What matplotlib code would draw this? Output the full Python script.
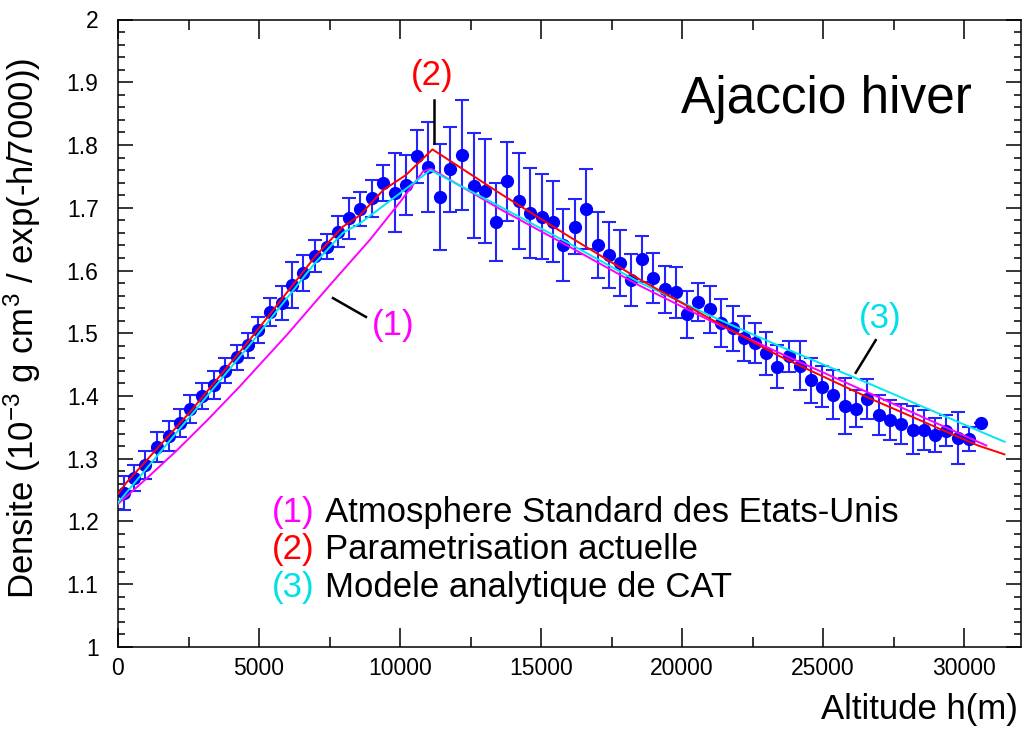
import matplotlib.pyplot as plt
from matplotlib.ticker import MultipleLocator, FuncFormatter

plt.rcParams['font.family'] = ['Liberation Sans', 'DejaVu Sans']
plt.rcParams['mathtext.default'] = 'regular'

# measured density points (altitude in m)
alt = [205, 559, 973, 1387, 1797, 2186, 2565, 2978, 3389, 3803,
       4216, 4627, 4981, 5394, 5808, 6162, 6572, 6986, 7400, 7810,
       8200, 8578, 8992, 9402, 9816, 10205, 10584, 10994, 11408, 11786,
       12211, 12611, 13011, 13389, 13803, 14203, 14616, 15026, 15417, 15794,
       16219, 16597, 17008, 17400, 17799, 18189, 18572, 18960, 19402, 19780,
       20191, 20580, 20983, 21372, 21808, 22197, 22586, 22964, 23375, 23789,
       24178, 24578, 24966, 25355, 25769, 26169, 26558, 26972, 27385, 27775,
       28175, 28564, 28953, 29367, 29777, 30180, 30591]
dens = [1.245, 1.269, 1.290, 1.319, 1.336, 1.357, 1.379, 1.400, 1.418, 1.440,
        1.462, 1.481, 1.505, 1.534, 1.548, 1.577, 1.596, 1.623, 1.638, 1.662,
        1.683, 1.698, 1.715, 1.739, 1.724, 1.736, 1.782, 1.765, 1.717, 1.761,
        1.784, 1.735, 1.727, 1.677, 1.742, 1.711, 1.692, 1.686, 1.678, 1.641,
        1.670, 1.698, 1.641, 1.625, 1.612, 1.585, 1.618, 1.588, 1.570, 1.565,
        1.530, 1.550, 1.538, 1.516, 1.508, 1.492, 1.484, 1.468, 1.447, 1.463,
        1.448, 1.425, 1.415, 1.402, 1.384, 1.380, 1.395, 1.370, 1.362, 1.356,
        1.346, 1.346, 1.338, 1.345, 1.333, 1.331, 1.357]
err = [0.027, 0.021, 0.023, 0.024, 0.024, 0.023, 0.022, 0.020, 0.022, 0.020,
       0.020, 0.020, 0.021, 0.022, 0.027, 0.036, 0.029, 0.025, 0.020, 0.025,
       0.033, 0.027, 0.030, 0.029, 0.063, 0.048, 0.042, 0.072, 0.085, 0.068,
       0.087, 0.084, 0.083, 0.062, 0.063, 0.076, 0.072, 0.068, 0.064, 0.057,
       0.044, 0.064, 0.053, 0.053, 0.052, 0.042, 0.037, 0.040, 0.037, 0.040,
       0.037, 0.030, 0.037, 0.038, 0.036, 0.036, 0.032, 0.034, 0.034, 0.024,
       0.039, 0.036, 0.033, 0.039, 0.045, 0.030, 0.032, 0.032, 0.032, 0.032,
       0.038, 0.032, 0.027, 0.024, 0.041, 0.019, 0.0]

# (1) US standard atmosphere
h_us = [0, 1000, 2080, 3200, 4333, 6000, 7518, 8933, 10000, 10820, 11100,
        13540, 16000, 18490, 21000, 23430, 26720, 30790]
d_us = [1.228, 1.268, 1.313, 1.363, 1.416, 1.498, 1.577, 1.649, 1.709, 1.758, 1.762,
        1.698, 1.638, 1.576, 1.520, 1.469, 1.403, 1.321]

# (2) current parametrisation
h_param = [0, 300, 2565, 4680, 6986, 7980, 8578, 9400, 10205, 11150,
           13540, 16000, 18490, 21000, 23430, 26720, 30500, 31430]
d_param = [1.244, 1.262, 1.375, 1.490, 1.622, 1.670, 1.688, 1.728, 1.752, 1.793,
           1.723, 1.654, 1.586, 1.523, 1.464, 1.395, 1.321, 1.307]

# (3) CAT analytic model
h_cat = [0, 2565, 4680, 6986, 7975, 8578, 10205, 11075, 13540, 16000,
         18490, 21000, 23430, 26720, 30960, 31440]
d_cat = [1.230, 1.368, 1.482, 1.612, 1.660, 1.675, 1.730, 1.760, 1.702, 1.643,
         1.581, 1.528, 1.480, 1.418, 1.336, 1.327]

fig = plt.figure(figsize=(10.24, 7.29), dpi=100)
ax = fig.add_axes([118 / 1024, 82 / 729, 902.5 / 1024, 627.5 / 729])

ax.errorbar(alt, dens, yerr=err, fmt='o', color='#0000ff', ecolor='#2424ff',
            markersize=8.5, elinewidth=1.5, capsize=5, capthick=1.5, zorder=2)

ax.plot(h_us, d_us, color='#ff00ff', lw=1.4, zorder=3)
ax.plot(h_cat, d_cat, color='#00e8f0', lw=1.4, zorder=4)
ax.plot(h_param, d_param, color='#ff0000', lw=1.4, zorder=5)

# curve labels with leader lines
ax.text(9745, 1.513, '(1)', color='#ff00ff', fontsize=25, ha='center', va='center')
ax.plot([7623, 8790], [1.556, 1.526], color='black', lw=1.8)
ax.text(11123, 1.9115, '(2)', color='#ff0000', fontsize=25, ha='center', va='center')
ax.plot([11196, 11196], [1.872, 1.803], color='black', lw=1.8)
ax.text(27042, 1.524, '(3)', color='#00e0e8', fontsize=25, ha='center', va='center')
ax.plot([26866, 26158], [1.489, 1.437], color='black', lw=1.8)

ax.text(25133, 1.872, 'Ajaccio hiver', fontsize=37, ha='center', va='center')

# legend block
leg_y = [1.215, 1.156, 1.0955]
leg_num = ['(1)', '(2)', '(3)']
leg_col = ['#ff00ff', '#ff0000', '#00e0e8']
leg_txt = ['Atmosphere Standard des Etats-Unis', 'Parametrisation actuelle',
           'Modele analytique de CAT']
for yy, n, c, t in zip(leg_y, leg_num, leg_col, leg_txt):
    ax.text(5465, yy, n, color=c, fontsize=25, ha='left', va='center')
    ax.text(7350, yy, t, color='black', fontsize=25, ha='left', va='center')

ax.set_xlim(0, 32000)
ax.set_ylim(1, 2)
ax.xaxis.set_major_locator(MultipleLocator(5000))
ax.xaxis.set_minor_locator(MultipleLocator(2500))
ax.yaxis.set_major_locator(MultipleLocator(0.1))
ax.yaxis.set_minor_locator(MultipleLocator(0.02))
ax.yaxis.set_major_formatter(FuncFormatter(lambda v, p: f'{v:g}'))
ax.xaxis.set_major_formatter(FuncFormatter(lambda v, p: f'{v:.0f}'))

ax.tick_params(axis='both', which='both', direction='in', top=True, right=True,
               width=1.1, labelsize=16.5)
ax.tick_params(axis='x', which='major', length=14, pad=7)
ax.tick_params(axis='x', which='minor', length=7)
ax.tick_params(axis='y', which='major', length=11, pad=14)
ax.tick_params(axis='y', which='minor', length=5)
for s in ax.spines.values():
    s.set_linewidth(1.1)

fig.text(1018 / 1024, 1 - 710 / 729, 'Altitude h(m)', fontsize=25,
         ha='right', va='center')
fig.text(22 / 1024, 1 - 328 / 729,
         'Densite (10$^{-3}$ g cm$^{3}$ / exp(-h/7000))', fontsize=25,
         rotation=90, ha='center', va='center')

fig.savefig('out.png', dpi=100)
